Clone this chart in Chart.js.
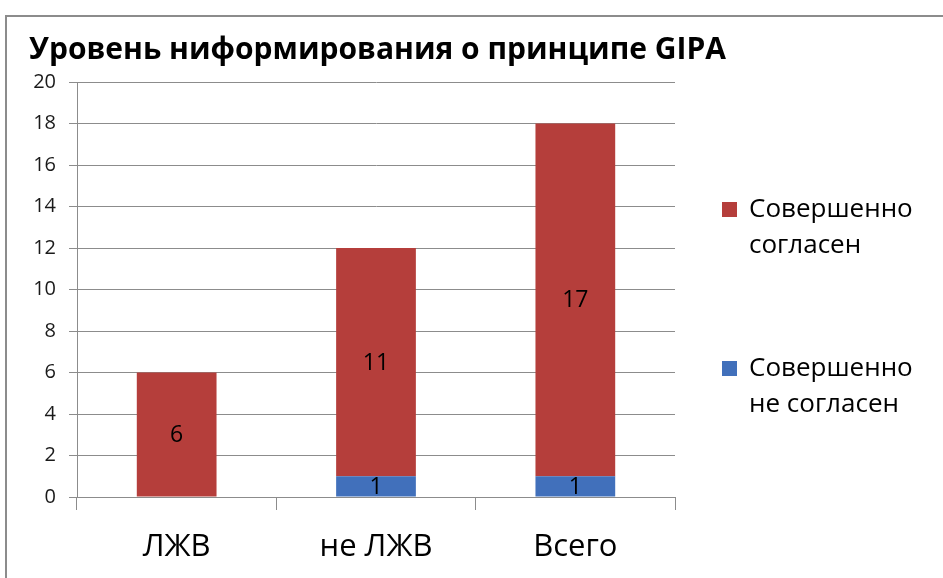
<!DOCTYPE html>
<html>
<head>
<meta charset="utf-8">
<script src="https://cdn.jsdelivr.net/npm/chart.js@4/dist/chart.umd.min.js"></script>
<style>
  html, body { margin: 0; padding: 0; background: #fff; }
  #wrap { position: relative; width: 943px; height: 578px; overflow: hidden; }
  #frame { position: absolute; left: 5px; top: 15px; width: 1000px; height: 700px;
           border-left: 2px solid #8c8c8c; border-top: 2px solid #8c8c8c; }
  canvas { position: absolute; left: 0; top: 0; }
</style>
</head>
<body>
<div id="wrap">
  <div id="frame"></div>
  <canvas id="myChart" width="943" height="578"></canvas>
</div>
<script>
// SETUP
const title = "Уровень ниформирования о принципе GIPA";
const labels = ["ЛЖВ", "не ЛЖВ", "Всего"];
const disagree = [0, 1, 1];
const agree = [6, 11, 17];
const yTicks = [0, 2, 4, 6, 8, 10, 12, 14, 16, 18, 20];

const FONT = "'Open Sans', Lato, sans-serif";

const data = {
    labels: labels,
    datasets: [
        {
            label: ["Совершенно", "не согласен"],
            data: disagree,
            backgroundColor: "rgb(65, 112, 187)",
            barPercentage: 0.8,
            categoryPercentage: 0.5,
        },
        {
            label: ["Совершенно", "согласен"],
            data: agree,
            backgroundColor: "rgb(181, 62, 59)",
            barPercentage: 0.8,
            categoryPercentage: 0.5,
        },
    ],
};

// value labels in the middle of each segment
const valueLabels = {
    id: "valueLabels",
    afterDatasetsDraw(chart) {
        const ctx = chart.ctx;
        ctx.save();
        ctx.font = "23px " + FONT;
        ctx.fillStyle = "#000";
        ctx.textAlign = "center";
        ctx.textBaseline = "middle";
        chart.data.datasets.forEach((ds, i) => {
            chart.getDatasetMeta(i).data.forEach((bar, j) => {
                if (!ds.data[j]) return;
                const mid = (bar.y + bar.base) / 2;
                ctx.fillText(String(ds.data[j]), bar.x, mid + 1);
            });
        });
        ctx.restore();
    },
};

// title and legend on the right, drawn by hand
const extras = {
    id: "extras",
    afterDraw(chart) {
        const ctx = chart.ctx;
        ctx.save();
        ctx.font = "bold 30px " + FONT;
        ctx.fillStyle = "#000";
        ctx.textBaseline = "middle";
        ctx.fillText(title, 29, 50);

        const items = chart.data.datasets.slice().reverse();
        const tops = [210, 369];
        ctx.font = "26px " + FONT;
        items.forEach((ds, i) => {
            const y = tops[i];
            ctx.fillStyle = ds.backgroundColor;
            ctx.fillRect(722, y - 8, 15, 15);
            ctx.fillStyle = "#000";
            ds.label.forEach((line, k) => {
                ctx.fillText(line, 749, y + k * 36);
            });
        });
        ctx.restore();
    },
};

// CONFIG
const config = {
    type: "bar",
    data: data,
    plugins: [valueLabels, extras],
    options: {
        responsive: false,
        animation: false,
        layout: {
            padding: { left: 0, right: 268, top: 82, bottom: 0 },
        },
        scales: {
            x: {
                stacked: true,
                offset: true,
                grid: {
                    offset: true,
                    drawOnChartArea: false,
                    tickLength: 13,
                    color: "#8c8c8c",
                },
                border: { color: "#8c8c8c" },
                ticks: {
                    color: "#000",
                    font: { family: FONT, size: 31 },
                    padding: 19,
                },
                afterFit(scale) {
                    scale.height = 578 - 497;
                },
            },
            y: {
                stacked: true,
                min: 0,
                max: 20,
                afterBuildTicks(scale) {
                    scale.ticks = yTicks.map((v) => ({ value: v }));
                },
                grid: {
                    color: "#8c8c8c",
                    tickLength: 8,
                },
                border: { color: "#8c8c8c" },
                ticks: {
                    color: "#1a1a1a",
                    font: { family: FONT, size: 20 },
                    padding: 13,
                },
                afterFit(scale) {
                    scale.width = 77;
                },
            },
        },
        plugins: {
            legend: { display: false },
            tooltip: { enabled: false },
        },
    },
};

const myChart = new Chart(document.getElementById("myChart"), config);
</script>
</body>
</html>
